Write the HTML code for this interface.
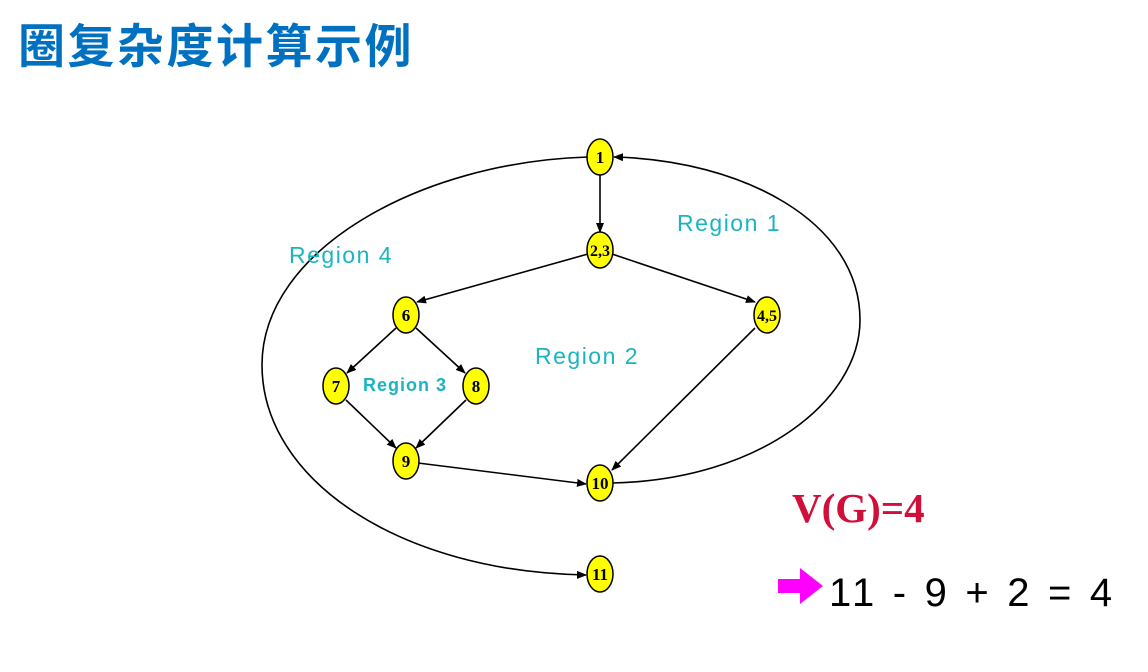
<!DOCTYPE html>
<html><head><meta charset="utf-8"><style>
body{margin:0;width:1148px;height:672px;background:#fff;overflow:hidden;position:relative}
.t{position:absolute;left:18px;top:13px;font:bold 47px "Noto Sans CJK SC",sans-serif;color:#0070c0;letter-spacing:2.5px;line-height:60px}
</style></head><body>
<div class="t">圈复杂度计算示例</div>
<svg width="1148" height="672" style="position:absolute;left:0;top:0">
<defs><marker id="a" markerWidth="10" markerHeight="8" refX="9" refY="4" orient="auto" markerUnits="userSpaceOnUse"><path d="M0,0L10,4L0,8z" fill="#000"/></marker></defs>
<g stroke="#000" stroke-width="1.6" fill="none" marker-end="url(#a)">
<line x1="600" y1="174" x2="600" y2="232"/>
<line x1="588" y1="254" x2="417" y2="302"/>
<line x1="612" y1="254" x2="755" y2="302"/>
<line x1="396" y1="328" x2="347" y2="373"/>
<line x1="416" y1="328" x2="465" y2="373"/>
<line x1="346" y1="400" x2="396" y2="448"/>
<line x1="466" y1="400" x2="416" y2="448"/>
<line x1="418" y1="463" x2="586" y2="484"/>
<line x1="755" y1="328" x2="612" y2="470"/>
<path d="M588,157 C420,162 262,250 262,365 C262,480 400,572 586,575"/>
<path d="M612,483 C760,480 860,400 860,320 C860,220 740,160 614,157"/>
</g>
<g fill="#ffff00" stroke="#000" stroke-width="1.5">
<ellipse cx="600" cy="157" rx="13" ry="18"/><ellipse cx="600" cy="250" rx="13" ry="18"/>
<ellipse cx="406" cy="315" rx="13" ry="18"/><ellipse cx="767" cy="315" rx="13" ry="18"/>
<ellipse cx="336" cy="386" rx="13" ry="18"/><ellipse cx="476" cy="386" rx="13" ry="18"/>
<ellipse cx="406" cy="461" rx="13" ry="18"/><ellipse cx="600" cy="483" rx="13" ry="18"/>
<ellipse cx="600" cy="574" rx="13" ry="18"/>
</g>
<g font-family="Liberation Serif,serif" font-weight="bold" font-size="17" text-anchor="middle">
<text x="600" y="163">1</text><text x="600" y="256" font-size="16">2,3</text>
<text x="406" y="321">6</text><text x="767" y="321" font-size="16">4,5</text>
<text x="336" y="392">7</text><text x="476" y="392">8</text>
<text x="406" y="467">9</text><text x="600" y="489">10</text><text x="600" y="580">11</text>
</g>
<g font-family="Liberation Sans,sans-serif" font-size="23" fill="#1ab5bd" letter-spacing="1.5">
<text x="677" y="231">Region 1</text><text x="289" y="263">Region 4</text>
<text x="535" y="364">Region 2</text>
<text x="363" y="391" font-size="18" font-weight="bold" letter-spacing="1">Region 3</text>
</g>
<text x="792" y="522" font-family="Liberation Serif,serif" font-weight="bold" font-size="41" fill="#d0103a">V(G)=4</text>
<path d="M778,579H800V568L823,586L800,604V593H778z" fill="#ff00ff"/>
<text x="829" y="606" font-family="Liberation Sans,sans-serif" font-size="40" fill="#000" letter-spacing="3.7">11 - 9 + 2 = 4</text>
</svg>
</body></html>
